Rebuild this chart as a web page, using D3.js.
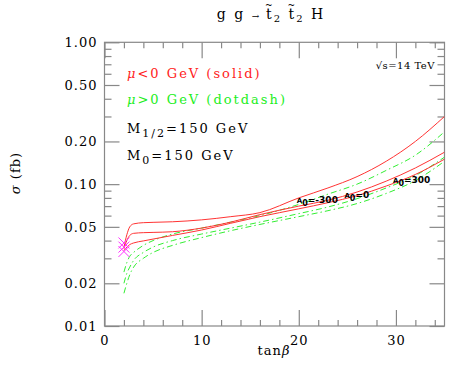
<!DOCTYPE html>
<html>
<head>
<meta charset="utf-8">
<script src="https://cdn.jsdelivr.net/npm/d3@7"></script>
<style>
  body { margin: 0; background: #fff; }
  text { font-family: "DejaVu Serif", serif; }
</style>
</head>
<body>
<div id="chart"></div>
<script>
// values
var tanb = [2, 2.3, 2.6, 3, 4, 5, 7, 10, 13, 16, 20, 23, 26, 29, 32, 35];

// mu < 0 (solid, red)
var redTop = [0.036, 0.044, 0.050, 0.0525, 0.0535, 0.0538, 0.0543, 0.0560, 0.0590, 0.0630, 0.080, 0.094, 0.113, 0.145, 0.200, 0.300];
var redMid = [0.035, 0.040, 0.0435, 0.0450, 0.0455, 0.0457, 0.0462, 0.0490, 0.0540, 0.0610, 0.070, 0.077, 0.088, 0.105, 0.130, 0.168];
var redLow = [0.034, 0.036, 0.0375, 0.0385, 0.0398, 0.0410, 0.0435, 0.0475, 0.0530, 0.0590, 0.067, 0.074, 0.083, 0.097, 0.117, 0.150];

// mu > 0 (dotdash, green)
var greenTop = [0.024, 0.028, 0.031, 0.033, 0.037, 0.040, 0.0445, 0.049, 0.054, 0.060, 0.072, 0.085, 0.100, 0.125, 0.160, 0.234];
var greenMid = [0.020, 0.0235, 0.026, 0.029, 0.033, 0.036, 0.040, 0.0445, 0.049, 0.054, 0.062, 0.069, 0.079, 0.094, 0.115, 0.155];
var greenLow = [0.017, 0.020, 0.023, 0.026, 0.030, 0.033, 0.037, 0.042, 0.047, 0.052, 0.059, 0.065, 0.073, 0.086, 0.106, 0.145];

// magenta markers at tan(beta)=2
var markTanb = [2, 2, 2];
var markSigma = [0.0385, 0.036, 0.0335];

// ticks
var xMajor = [0, 10, 20, 30];
var xMinor = [2, 4, 6, 8, 12, 14, 16, 18, 22, 24, 26, 28, 32, 34];
var yMajor = [0.01, 0.02, 0.05, 0.1, 0.2, 0.5, 1];
var yMinor = [0.03, 0.04, 0.06, 0.07, 0.08, 0.09, 0.3, 0.4, 0.6, 0.7, 0.8, 0.9];

// labels on curves
var a0Labels = ["-300", "0", "300"];
var a0Tanb = [19.8, 24.7, 29.7];
var a0Sigma = [0.0734, 0.0797, 0.102];

var W = 449, H = 374;
var pLeft = 104.5, pRight = 444.5, pTop = 42.3, pBottom = 326;

var svg = d3.select("#chart").append("svg")
    .attr("width", W)
    .attr("height", H);

var x = d3.scaleLinear().domain([0, 35]).range([pLeft, pRight]);
var y = d3.scaleLog().domain([0.01, 1]).range([pBottom, pTop]);

var axisCol = "#888";

// axes, ticks pointing inward on all four sides
function styleAxis(g) {
  g.select(".domain").remove();
  g.selectAll(".tick line").attr("stroke", axisCol).attr("stroke-width", 1.2);
  g.selectAll("text").attr("fill", "#000").style("font-size", "13px")
    .style("font-family", "DejaVu Serif").style("letter-spacing", "1px");
}

svg.append("g").attr("transform", "translate(0," + pBottom + ")")
  .call(d3.axisBottom(x).tickValues(xMajor).tickSize(-16).tickPadding(10).tickFormat(d3.format("d")))
  .call(styleAxis);
svg.append("g").attr("transform", "translate(0," + pBottom + ")")
  .call(d3.axisBottom(x).tickValues(xMinor).tickSize(-6).tickFormat(""))
  .call(styleAxis);
svg.append("g").attr("transform", "translate(0," + pTop + ")")
  .call(d3.axisTop(x).tickValues(xMajor).tickSize(-16).tickFormat(""))
  .call(styleAxis);
svg.append("g").attr("transform", "translate(0," + pTop + ")")
  .call(d3.axisTop(x).tickValues(xMinor).tickSize(-6).tickFormat(""))
  .call(styleAxis);

svg.append("g").attr("transform", "translate(" + pLeft + ",0)")
  .call(d3.axisLeft(y).tickValues(yMajor).tickSize(-15).tickPadding(7).tickFormat(d3.format(".2f")))
  .call(styleAxis);
svg.append("g").attr("transform", "translate(" + pLeft + ",0)")
  .call(d3.axisLeft(y).tickValues(yMinor).tickSize(-7).tickFormat(""))
  .call(styleAxis);
svg.append("g").attr("transform", "translate(" + pRight + ",0)")
  .call(d3.axisRight(y).tickValues(yMajor).tickSize(-15).tickFormat(""))
  .call(styleAxis);
svg.append("g").attr("transform", "translate(" + pRight + ",0)")
  .call(d3.axisRight(y).tickValues(yMinor).tickSize(-7).tickFormat(""))
  .call(styleAxis);

// frame
svg.append("rect")
  .attr("x", pLeft).attr("y", pTop)
  .attr("width", pRight - pLeft).attr("height", pBottom - pTop)
  .attr("fill", "none").attr("stroke", axisCol).attr("stroke-width", 1.2);

svg.append("clipPath").attr("id", "clip")
  .append("rect").attr("x", pLeft).attr("y", pTop)
  .attr("width", pRight - pLeft).attr("height", pBottom - pTop);

var line = d3.line()
  .x(function(d) { return x(d[0]); })
  .y(function(d) { return y(d[1]); })
  .curve(d3.curveMonotoneX);

var plot = svg.append("g").attr("clip-path", "url(#clip)");

[greenTop, greenMid, greenLow].forEach(function(s) {
  plot.append("path")
    .datum(d3.zip(tanb, s))
    .attr("d", line)
    .attr("fill", "none")
    .attr("stroke", "#33ee33")
    .attr("stroke-width", 1)
    .attr("stroke-dasharray", "6,3,1.5,3");
});

[redTop, redMid, redLow].forEach(function(s) {
  plot.append("path")
    .datum(d3.zip(tanb, s))
    .attr("d", line)
    .attr("fill", "none")
    .attr("stroke", "#ff3333")
    .attr("stroke-width", 1);
});

// markers
plot.selectAll(".mark")
  .data(d3.zip(markTanb, markSigma))
  .enter().append("path")
    .attr("transform", function(d) { return "translate(" + x(d[0]) + "," + y(d[1]) + ")"; })
    .attr("d", d3.symbol(d3.symbolTimes, 80))
    .attr("fill", "none")
    .attr("stroke", "#ff33ff")
    .attr("stroke-width", 1);

// A0 labels
a0Labels.forEach(function(l, i) {
  var t = svg.append("text")
    .attr("x", x(a0Tanb[i]))
    .attr("y", y(a0Sigma[i]))
    .style("font-size", "9px")
    .style("font-weight", "bold")
    .style("font-family", "DejaVu Sans");
  t.append("tspan").style("font-size", "7px").text("A");
  t.append("tspan").attr("dy", 3).style("font-size", "8px").text("0");
  t.append("tspan").attr("dy", -3).text("=" + l);
});

// title
var title = svg.append("text")
  .attr("x", 271).attr("y", 18.5)
  .attr("text-anchor", "middle")
  .style("font-size", "14px")
  .style("letter-spacing", "2px");
title.append("tspan").text("g  g  ");
title.append("tspan").style("font-size", "9px").text("\u2192 ");
title.append("tspan").attr("class", "tl").text("t");
title.append("tspan").attr("dy", 3.5).style("font-size", "10px").text("2");
title.append("tspan").attr("dy", -3.5).text("  ");
title.append("tspan").attr("class", "tl").text("t");
title.append("tspan").attr("dy", 3.5).style("font-size", "10px").text("2");
title.append("tspan").attr("dy", -3.5).text("  H");
title.selectAll(".tl").each(function() {
  var b = this.getBBox();
  svg.append("text")
    .attr("x", b.x + b.width / 2 - 1)
    .attr("y", 8)
    .attr("text-anchor", "middle")
    .style("font-size", "9px")
    .text("~");
});

// legend text
var leg = svg.append("g").style("font-size", "13px").style("letter-spacing", "2px");
var t1 = leg.append("text").attr("x", 127).attr("y", 77.5).attr("fill", "#ff2222");
t1.append("tspan").style("font-style", "italic").text("\u03bc");
t1.append("tspan").text("<0 GeV (solid)");
var t2 = leg.append("text").attr("x", 127).attr("y", 104).attr("fill", "#22ee22");
t2.append("tspan").style("font-style", "italic").text("\u03bc");
t2.append("tspan").text(">0 GeV (dotdash)");
var t3 = leg.append("text").attr("x", 127).attr("y", 133).attr("fill", "#000");
t3.append("tspan").text("M");
t3.append("tspan").attr("dy", 4).style("font-size", "11px").text("1/2");
t3.append("tspan").attr("dy", -4).text("=150 GeV");
var t4 = leg.append("text").attr("x", 127).attr("y", 160).attr("fill", "#000");
t4.append("tspan").text("M");
t4.append("tspan").attr("dy", 4).style("font-size", "11px").text("0");
t4.append("tspan").attr("dy", -4).text("=150 GeV");

svg.append("text")
  .attr("x", 435).attr("y", 68.5)
  .attr("text-anchor", "end")
  .style("font-size", "10px")
  .style("letter-spacing", "0.5px")
  .text("\u221as=14 TeV");

// axis labels
svg.append("text")
  .attr("x", 274).attr("y", 355)
  .attr("text-anchor", "middle")
  .style("font-size", "13px")
  .style("letter-spacing", "1px")
  .html("tan<tspan font-style='italic'>\u03b2</tspan>");

svg.append("text")
  .attr("transform", "translate(20,173) rotate(-90)")
  .attr("text-anchor", "middle")
  .style("font-size", "13px")
  .style("letter-spacing", "1px")
  .html("<tspan font-style='italic'>\u03c3</tspan> (fb)");
</script>
</body>
</html>
